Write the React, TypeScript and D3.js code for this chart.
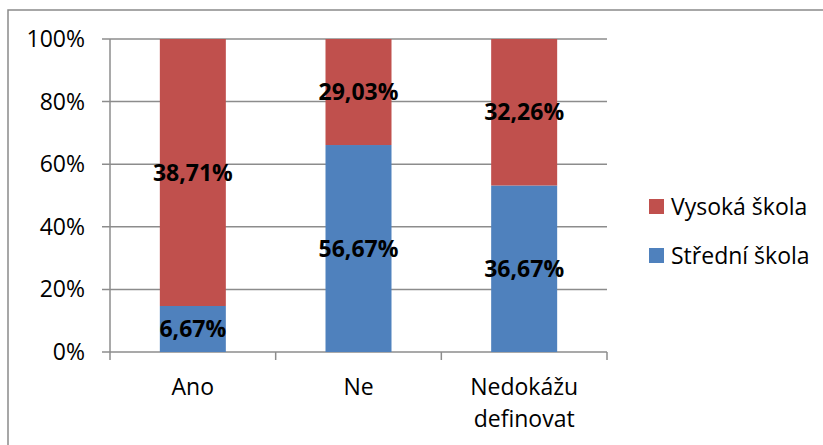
import React from "react";
import * as d3 from "d3";

const categories = ["Ano", "Ne", "Nedokážu definovat"];
const stredni = [6.67, 56.67, 36.67];
const vysoka = [38.71, 29.03, 32.26];
const seriesNames = ["Střední škola", "Vysoká škola"];
const seriesColors = ["#4F81BD", "#C0504D"];
const yTicks = [0, 0.2, 0.4, 0.6, 0.8, 1];

const W = 823;
const H = 445;
const plot = { left: 110, right: 607, top: 39, bottom: 352 };
const FONT = "'Open Sans', 'Noto Sans', sans-serif";
const FS = 23;

export default function App() {
  const rows = categories.map((c, i) => ({ cat: c, s0: stredni[i], s1: vysoka[i] }));
  const stack = d3.stack<any>().keys(["s0", "s1"]).offset(d3.stackOffsetExpand);
  const series = stack(rows);

  const x = d3.scaleBand().domain(categories).range([plot.left, plot.right]).paddingInner(0).paddingOuter(0);
  const y = d3.scaleLinear().domain([0, 1]).range([plot.bottom, plot.top]);
  const barW = 66;
  const grid = "#8c8c8c";
  const fmt = (v: number) => v.toFixed(2).replace(".", ",") + "%";

  const boundaries = [plot.left, ...categories.map((c) => (x(c) as number) + x.bandwidth())];

  return (
    <svg width={W} height={H} style={{ position: "absolute", left: 0, top: 0, background: "#fff" }} fontFamily={FONT}>
      <rect x={8} y={10} width={W} height={H} fill="none" stroke="#8a8a8a" strokeWidth={1.5} />
      {yTicks.map((t) => (
        <g key={t}>
          <line x1={plot.left - 8} x2={plot.right} y1={y(t)} y2={y(t)} stroke={grid} strokeWidth={1.5} />
          <text x={85} y={y(t)} dy="0.35em" textAnchor="end" fontSize={FS} fill="#000">
            {Math.round(t * 100) + "%"}
          </text>
        </g>
      ))}
      <line x1={plot.left} x2={plot.left} y1={plot.top} y2={plot.bottom + 8} stroke={grid} strokeWidth={1.5} />
      {boundaries.slice(1).map((b, i) => (
        <line key={i} x1={b} x2={b} y1={plot.bottom} y2={plot.bottom + 8} stroke={grid} strokeWidth={1.5} />
      ))}
      {series.map((s, si) => (
        <g key={si}>
          {s.map((d, i) => {
            const cx = (x(categories[i]) as number) + x.bandwidth() / 2;
            return (
              <rect key={i} x={cx - barW / 2} width={barW} y={y(d[1])} height={y(d[0]) - y(d[1])} fill={seriesColors[si]} />
            );
          })}
        </g>
      ))}
      {series.map((s, si) => (
        <g key={"l" + si}>
          {s.map((d, i) => {
            const cx = (x(categories[i]) as number) + x.bandwidth() / 2;
            const v = si === 0 ? stredni[i] : vysoka[i];
            return (
              <text key={i} x={cx} y={(y(d[0]) + y(d[1])) / 2} dy="0.35em" textAnchor="middle" fontSize={FS} fontWeight="bold" fill="#000">
                {fmt(v)}
              </text>
            );
          })}
        </g>
      ))}
      {categories.map((c) => {
        const cx = (x(c) as number) + x.bandwidth() / 2;
        const lines = c === "Nedokážu definovat" ? ["Nedokážu", "definovat"] : [c];
        return lines.map((ln, li) => (
          <text key={c + li} x={cx} y={387 + li * 32} dy="0.35em" textAnchor="middle" fontSize={FS} fill="#000">
            {ln}
          </text>
        ));
      })}
      {[1, 0].map((si, k) => (
        <g key={"lg" + si} transform={`translate(649, ${199 + k * 49})`}>
          <rect width={15} height={15} fill={seriesColors[si]} />
          <text x={22} y={8} dy="0.35em" fontSize={FS} fill="#000">
            {seriesNames[si]}
          </text>
        </g>
      ))}
    </svg>
  );
}
